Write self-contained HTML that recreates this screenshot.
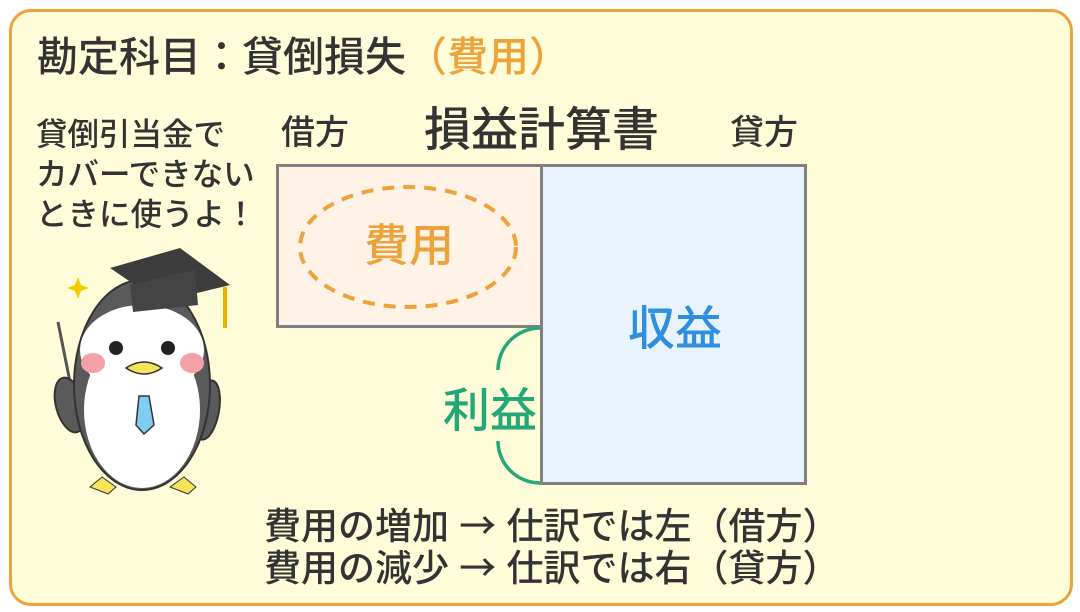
<!DOCTYPE html>
<html><head><meta charset="utf-8"><style>
body{margin:0;width:1080px;height:612px;background:#fff;position:relative;overflow:hidden;font-family:"Liberation Sans","Noto Sans CJK JP",sans-serif;font-weight:500;}
.frame{position:absolute;left:9px;top:9px;width:1058px;height:591px;border:3px solid #eea23a;border-radius:22px;background:#fffdd9;}
.t{position:absolute;white-space:nowrap;color:#333;line-height:1;}
.a{font-family:"Noto Sans CJK JP",sans-serif;}
</style></head><body>
<div class="frame"></div>
<div class="t" style="left:37px;top:37px;font-size:41px;">勘定科目：貸倒損失<span style="color:#eea23a">（費用）</span></div>
<div class="t" style="left:36px;top:114px;font-size:31.5px;line-height:40px;">貸倒引当金で<br>カバーできない<br>ときに使うよ！</div>
<div class="t" style="left:281px;top:116px;font-size:34px;">借方</div>
<div class="t" style="left:424px;top:106px;font-size:47px;">損益計算書</div>
<div class="t" style="left:730px;top:116px;font-size:34px;">貸方</div>
<svg style="position:absolute;left:0;top:0" width="1080" height="612">
<rect x="277.5" y="165.5" width="264" height="161" fill="#fff2e6" stroke="#808080" stroke-width="3"/>
<rect x="541.5" y="165.5" width="264" height="318" fill="#e9f3fe" stroke="#808080" stroke-width="3"/>
<ellipse cx="408" cy="247" rx="108" ry="60" fill="none" stroke="#eea23a" stroke-width="4" stroke-dasharray="12 9"/>
<path d="M540 328 A42 42 0 0 0 498 370" fill="none" stroke="#22a777" stroke-width="3.5"/>
<path d="M498 441 A42 42 0 0 0 540 483" fill="none" stroke="#22a777" stroke-width="3.5"/>
<g>
<line x1="58" y1="322" x2="72" y2="392" stroke="#555" stroke-width="3"/>
<ellipse cx="70" cy="405" rx="14" ry="28" fill="#5a5a5a" stroke="#333" stroke-width="2" transform="rotate(-15 70 405)"/>
<ellipse cx="207" cy="410" rx="12" ry="30" fill="#5a5a5a" stroke="#333" stroke-width="2" transform="rotate(10 207 410)"/>
<ellipse cx="142" cy="385" rx="68" ry="105" fill="#5a5a5a" stroke="#333" stroke-width="2"/>
<ellipse cx="142" cy="410" rx="58" ry="78" fill="#fff"/>
<ellipse cx="142" cy="350" rx="62" ry="45" fill="#fff"/>
<ellipse cx="93" cy="363" rx="12" ry="10" fill="#f5a0a8"/>
<ellipse cx="192" cy="363" rx="12" ry="10" fill="#f5a0a8"/>
<circle cx="116" cy="348" r="7" fill="#222"/>
<circle cx="168" cy="348" r="7" fill="#222"/>
<path d="M126 368 Q144 356 162 368 Q144 380 126 368Z" fill="#f7e35a" stroke="#333" stroke-width="1.5"/>
<path d="M139 396 L149 396 L154 425 L144 434 L136 425Z" fill="#7fcdf0" stroke="#333" stroke-width="1.5"/>
<path d="M90 487 l12 -10 l14 10 l-8 7z M170 487 l14 -10 l12 10 l-8 7z" fill="#f7e35a" stroke="#333" stroke-width="1"/>
<path d="M110 268 L180 248 L230 285 L160 302Z" fill="#3c3c3c"/>
<path d="M130 285 L195 270 L198 305 L133 312Z" fill="#444"/>
<line x1="225" y1="287" x2="225" y2="328" stroke="#e8b400" stroke-width="4"/>
<path d="M75 285 l3 -8 l3 8 l8 3 l-8 3 l-3 8 l-3 -8 l-8 -3z" fill="#f5c800"/>
</g>
</svg>
<div class="t" style="left:364px;top:223px;font-size:45px;color:#eea23a;">費用</div>
<div class="t" style="left:628px;top:305px;font-size:47px;color:#2e8fe0;">収益</div>
<div class="t" style="left:443px;top:387px;font-size:47px;color:#22a777;">利益</div>
<div class="t" style="left:264px;top:504px;font-size:37px;line-height:38px;">費用の増加 <span class="a">→</span> 仕訳では左（借方）<br>費用の減少 <span class="a">→</span> 仕訳では右（貸方）</div>
</body></html>
